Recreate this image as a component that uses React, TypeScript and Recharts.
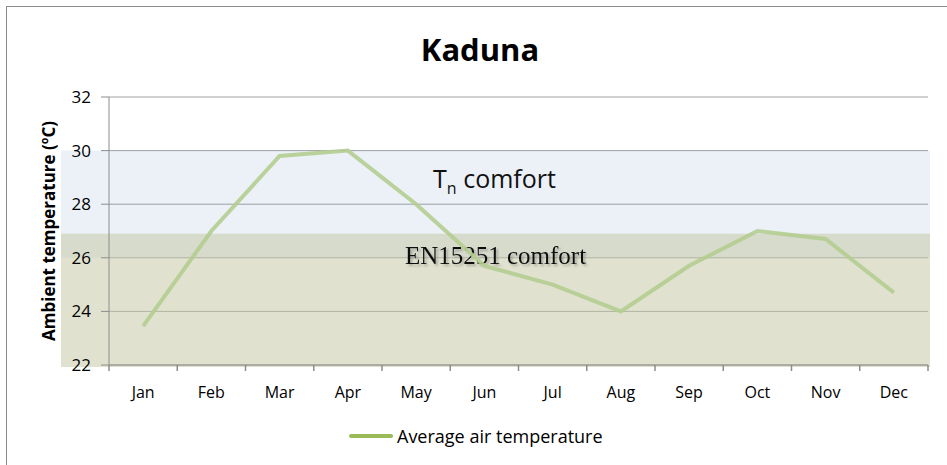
import React from 'react';
import {
  CartesianGrid,
  Line,
  LineChart,
  ReferenceArea,
  XAxis,
  YAxis
} from 'recharts';

const months = ['Jan', 'Feb', 'Mar', 'Apr', 'May', 'Jun', 'Jul', 'Aug', 'Sep', 'Oct', 'Nov', 'Dec'];
const avgAirTemp = [23.45, 27.0, 29.8, 30.0, 28.0, 25.7, 25.0, 24.0, 25.7, 27.0, 26.7, 24.7];
const yTicks = [22, 24, 26, 28, 30, 32];
const tnComfort = [26, 30];
const enComfort = [22, 26.9];

const data = months.map((m, i) => ({ month: m, temp: avgAirTemp[i] }));

const FONT = '"Open Sans", sans-serif';

const BandShape = (props: any) => {
  const { x, y, width, height, fill, fillOpacity, extra } = props;
  return (
    <rect
      x={x - 48}
      y={y}
      width={width + 50}
      height={height + (extra || 0)}
      fill={fill}
      fillOpacity={fillOpacity}
    />
  );
};

const TnLabel = (props: any) => {
  const { viewBox } = props;
  const cx = viewBox.x + viewBox.width / 2 - 24;
  return (
    <text x={cx} y={viewBox.y + 37} textAnchor="middle" fontFamily={FONT} fontSize={25} fill="#111">
      T<tspan fontSize={16} dy={6}>n</tspan>
      <tspan dy={-6}> comfort</tspan>
    </text>
  );
};

const EnLabel = (props: any) => {
  const { viewBox } = props;
  const cx = viewBox.x + viewBox.width / 2 - 23;
  const ty = viewBox.y + 30;
  return (
    <g>
      <defs>
        <filter id="enShadow" x="-10%" y="-30%" width="120%" height="160%">
          <feDropShadow dx="2" dy="2" stdDeviation="1" floodColor="#666" floodOpacity="0.45" />
        </filter>
      </defs>
      <text
        x={cx}
        y={ty}
        textAnchor="middle"
        fontFamily='"Liberation Serif", serif'
        fontSize={25}
        fill="#111"
        filter="url(#enShadow)"
      >
        EN15251 comfort
      </text>
    </g>
  );
};

const YLabel = (props: any) => {
  const { viewBox } = props;
  const cy = viewBox.y + viewBox.height / 2;
  return (
    <text
      x={48}
      y={cy}
      transform={`rotate(-90 48 ${cy})`}
      textAnchor="middle"
      dominantBaseline="central"
      fontFamily={FONT}
      fontWeight="bold"
      fontSize={17}
      fill="#000"
    >
      Ambient temperature (ºC)
    </text>
  );
};

// month label centred in its band, with tick marks on the band edges
const MonthTick = (props: any) => {
  const { x, y, payload, index, visibleTicksCount, width } = props;
  const half = payload.offset || (width ? width / visibleTicksCount / 2 : 0);
  return (
    <g>
      <line x1={x - half} x2={x - half} y1={y - 8} y2={y - 2} stroke="#8c8c8c" strokeWidth={1.5} />
      {index === visibleTicksCount - 1 && (
        <line x1={x + half} x2={x + half} y1={y - 8} y2={y - 2} stroke="#8c8c8c" strokeWidth={1.5} />
      )}
      <text x={x} y={y + 25} textAnchor="middle" fontFamily={FONT} fontSize={16} fill="#000">
        {payload.value}
      </text>
    </g>
  );
};

export default function App() {
  return (
    <div style={{ position: 'fixed', left: 0, top: 0, width: 947, height: 465, overflow: 'hidden', background: '#fff' }}>
      <div
        style={{
          position: 'absolute',
          left: 6,
          top: 6,
          width: 980,
          height: 500,
          border: '1px solid #8c8c8c'
        }}
      />
      <div
        style={{
          position: 'absolute',
          left: 0,
          width: 960,
          top: 28,
          textAlign: 'center',
          fontFamily: FONT,
          fontWeight: 'bold',
          fontSize: 31,
          color: '#000'
        }}
      >
        Kaduna
      </div>
      <div style={{ position: 'absolute', left: 0, top: 0 }}>
        <LineChart width={947} height={465} data={data} margin={{ top: 97, right: 19, left: 0, bottom: 60 }}>
          <CartesianGrid vertical={false} stroke="#a3a3a3" strokeWidth={1} />
          <ReferenceArea
            y1={tnComfort[0]}
            y2={tnComfort[1]}
            fill="#4f81bd"
            fillOpacity={0.11}
            stroke="none"
            ifOverflow="visible"
            shape={<BandShape />}
            label={<TnLabel />}
          />
          <ReferenceArea
            y1={enComfort[0]}
            y2={enComfort[1]}
            fill="#c1c59f"
            fillOpacity={0.5}
            stroke="none"
            ifOverflow="visible"
            shape={<BandShape extra={2} />}
            label={<EnLabel />}
          />
          <XAxis
            dataKey="month"
            scale="band"
            axisLine={{ stroke: '#8c8c8c' }}
            tickLine={false}
            tick={<MonthTick />}
            interval={0}
            height={40}
          />
          <YAxis
            domain={[22, 32]}
            ticks={yTicks}
            width={109}
            axisLine={{ stroke: '#8c8c8c' }}
            tickLine={{ stroke: '#8c8c8c' }}
            tickSize={8}
            tickMargin={10}
            tick={{ fill: '#000', fontSize: 17, fontFamily: FONT }}
            label={<YLabel />}
          />
          <Line
            type="linear"
            dataKey="temp"
            stroke="#b4cd90"
            strokeWidth={4}
            strokeOpacity={0.9}
            dot={false}
            activeDot={false}
            isAnimationActive={false}
          />
        </LineChart>
      </div>
      <div
        style={{
          position: 'absolute',
          left: 349,
          top: 424,
          display: 'flex',
          alignItems: 'center',
          fontFamily: FONT,
          fontSize: 18,
          color: '#000'
        }}
      >
        <span style={{ display: 'inline-block', width: 44, height: 4, background: '#9bbb59', borderRadius: 2, marginRight: 4 }} />
        Average air temperature
      </div>
    </div>
  );
}
